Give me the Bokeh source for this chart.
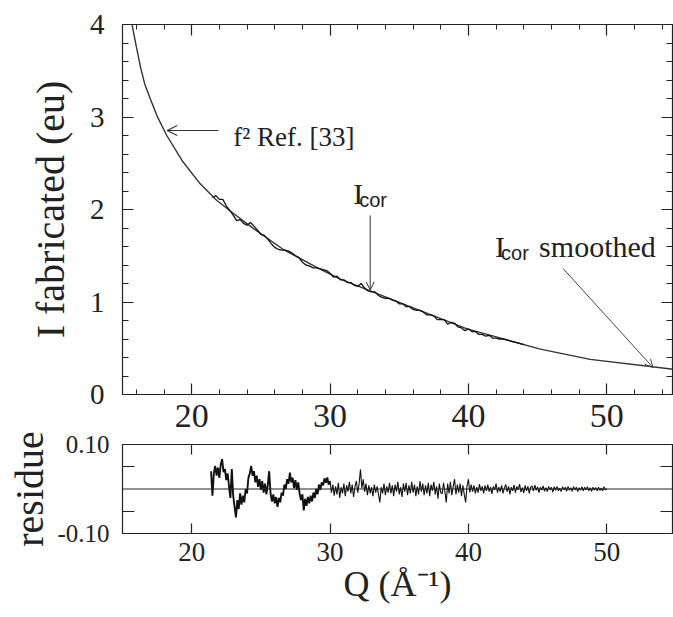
import numpy as np
from bokeh.plotting import figure
from bokeh.models import (LinearAxis, FixedTicker, CustomJSTickFormatter, Arrow,
                          OpenHead, Label, Span, NumeralTickFormatter, Range1d)
from bokeh.layouts import column
from bokeh.embed import file_html
from bokeh.resources import INLINE

SERIF = "Liberation Serif"
SANS = "Liberation Sans"
INK = "#222222"

# ---------------- data ----------------
# f^2 reference curve (smooth)
f2_q = [15.4, 15.7, 16.0, 16.3, 16.6, 17.0, 17.5, 18.2, 19.3, 20.6, 21.8, 23.0,
        24.5, 26.6, 29.1, 30.7, 32.9, 35.6, 39.9, 42.8, 45.2, 48.8, 53.3, 55.0]
f2_i = [4.28, 3.99, 3.76, 3.54, 3.36, 3.20, 3.01, 2.80, 2.53, 2.28, 2.10, 1.96,
        1.79, 1.57, 1.37, 1.25, 1.12, 0.96, 0.71, 0.59, 0.49, 0.38, 0.30, 0.27]

# I_cor (noisy part), sampled every 0.25 from Q = 21.5
icor_q0 = 21.5
icor_step = 0.25
icor_i = [2.13, 2.15, 2.11, 2.11, 2.04, 1.99, 1.94, 1.88, 1.89, 1.85,
          1.83, 1.86, 1.82, 1.78, 1.73, 1.72, 1.68, 1.63, 1.59, 1.57,
          1.56, 1.56, 1.55, 1.53, 1.50, 1.48, 1.43, 1.40, 1.39, 1.37,
          1.37, 1.36, 1.35, 1.34, 1.31, 1.27, 1.28, 1.24, 1.24, 1.21,
          1.21, 1.18, 1.17, 1.20, 1.15, 1.12, 1.11, 1.11, 1.07, 1.05,
          1.04, 1.04, 1.02, 1.01, 0.98, 0.98, 0.95, 0.95, 0.92, 0.91,
          0.91, 0.89, 0.86, 0.86, 0.85, 0.81, 0.81, 0.81, 0.76, 0.78,
          0.77, 0.73, 0.72, 0.69, 0.71, 0.68, 0.68, 0.65, 0.65, 0.63,
          0.64, 0.61, 0.61, 0.60, 0.60, 0.59, 0.58, 0.57, 0.56, 0.55,
          0.54]

# residue, sampled every 0.1 from Q = 21.4
res_q0 = 21.4
res_step = 0.1
residue = [
    0.040, -0.015, 0.035, 0.052, 0.030, 0.048, 0.025, 0.055, 0.067, 0.038,
    0.045, 0.020, 0.035, 0.005, -0.020, 0.045, -0.015, -0.040, -0.064, -0.025,
    -0.045, -0.010, -0.035, -0.015, -0.030, 0.000, -0.010, 0.025, 0.035, 0.052,
    0.030, 0.040, 0.015, 0.030, 0.005, 0.022, -0.002, 0.018, -0.008, 0.012,
    -0.012, 0.008, 0.040, -0.010, -0.028, -0.012, -0.032, -0.018, -0.040, -0.020,
    -0.030, -0.008, -0.015, 0.010, 0.000, 0.022, 0.012, 0.037, 0.015, 0.025,
    0.002, 0.020, -0.002, 0.015, -0.010, -0.025, -0.012, -0.048, -0.022, -0.038,
    -0.018, -0.032, -0.015, -0.028, -0.008, -0.020, 0.000, -0.012, 0.010, -0.002,
    0.015, 0.008, 0.024, 0.014, 0.026, 0.010, 0.018, -0.008, 0.010, -0.015,
    0.006, -0.012, 0.014, -0.020, 0.004, -0.010, 0.012, -0.016, 0.008, -0.006,
    0.016, -0.010, 0.010, -0.018, 0.005, 0.018, -0.008, 0.012, 0.044, 0.002,
    0.022, -0.006, 0.012, -0.014, 0.008, -0.010, 0.004, -0.016, 0.010, -0.008,
    0.006, -0.012, -0.030, 0.004, -0.010, 0.012, -0.014, 0.006, -0.008, 0.014,
    -0.010, 0.008, -0.016, 0.010, -0.006, 0.016, -0.012, 0.004, -0.018, 0.012,
    -0.006, 0.014, -0.014, 0.008, -0.010, 0.016, -0.008, 0.010, -0.016, 0.006,
    -0.012, 0.018, -0.006, 0.012, -0.014, 0.008, -0.010, 0.014, -0.016, 0.010,
    -0.004, 0.016, -0.012, 0.006, -0.022, 0.012, -0.008, -0.011, 0.014, -0.006,
    -0.030, 0.012, -0.010, 0.016, -0.014, 0.006, 0.022, -0.012, 0.010, -0.008,
    0.012, -0.016, 0.008, -0.012, -0.030, 0.006, 0.022, -0.008, 0.010, -0.006,
    0.008, -0.010, 0.004, -0.008, 0.011, -0.004, 0.006, -0.010, 0.008, -0.004,
    0.010, -0.006, 0.004, -0.011, 0.006, -0.002, 0.012, -0.008, 0.004, -0.006,
    0.008, -0.010, 0.002, 0.010, -0.006, 0.006, -0.012, 0.004, -0.004, 0.009,
    -0.008, 0.006, -0.002, 0.011, -0.007, 0.003, -0.009, 0.008, -0.004, 0.006,
    -0.010, 0.004, 0.007, -0.005, 0.009, -0.003, 0.005, -0.008, 0.004, -0.002,
    0.007, -0.005, 0.003, -0.006, 0.006, -0.002, 0.004, -0.007, 0.005, -0.003,
    0.006, -0.004, 0.002, -0.006, 0.005, -0.002, 0.004, -0.005, 0.006, -0.003,
    0.003, -0.005, 0.005, -0.002, 0.004, -0.006, 0.003, -0.003, 0.005, -0.004,
    0.004, -0.002, 0.005, -0.004, 0.003, -0.005, 0.004, -0.002, 0.003, -0.004,
    0.004, -0.003, 0.002, -0.004, 0.005, -0.002, 0.000,
]
dense_until = 30.0   # the residue trace looks heavier (denser) below this Q

x_ticks = [20, 30, 40, 50]
x_minor = [16, 18, 22, 24, 26, 28, 32, 34, 36, 38, 42, 44, 46, 48, 52, 54]
y_ticks = [0, 1, 2, 3, 4]
y_minor = [0.2, 0.4, 0.6, 0.8, 1.2, 1.4, 1.6, 1.8, 2.2, 2.4, 2.6, 2.8,
           3.2, 3.4, 3.6, 3.8]
res_ticks = [-0.10, 0.10]
res_minor = [-0.05, 0.05]

icor_q = np.round(icor_q0 + icor_step * np.arange(len(icor_i)), 2)
res_q = np.round(res_q0 + res_step * np.arange(len(residue)), 2)
res_v = np.array(residue)
n_dense = int(np.searchsorted(res_q, dense_until, side="right"))

XR = Range1d(15, 54.75)
BLANK = CustomJSTickFormatter(code="return ''")


def style_axis(ax, ticks, minor, major_in, minor_in, font_size=None, blank=False):
    ax.ticker = FixedTicker(ticks=ticks, minor_ticks=minor)
    ax.major_tick_in = major_in
    ax.major_tick_out = 0
    ax.minor_tick_in = minor_in
    ax.minor_tick_out = 0
    ax.axis_line_color = INK
    ax.major_tick_line_color = INK
    ax.minor_tick_line_color = INK
    ax.major_tick_line_width = 1.2
    ax.minor_tick_line_width = 1.0
    ax.axis_label_text_font = SERIF
    ax.axis_label_text_font_style = "normal"
    ax.axis_label_text_color = INK
    ax.major_label_text_font = SERIF
    ax.major_label_text_color = INK
    if blank:
        ax.formatter = BLANK
        ax.major_label_standoff = 0
        ax.major_label_text_font_size = "1px"
    elif font_size:
        ax.major_label_text_font_size = font_size


# ---------------- top panel ----------------
top = figure(width=673, height=436, x_range=XR, y_range=Range1d(0, 4),
             output_backend="svg", toolbar_location=None,
             min_border_left=122, min_border_right=1, min_border_top=24,
             min_border_bottom=42)
top.grid.visible = False
top.outline_line_color = INK
top.outline_line_width = 1.2
top.background_fill_color = "white"
top.border_fill_color = "white"

style_axis(top.xaxis[0], x_ticks, x_minor, 11, 5, "34px")
top.xaxis[0].major_label_standoff = 10
style_axis(top.yaxis[0], y_ticks, y_minor, 11, 6, "29px")
top.yaxis[0].major_label_standoff = 18
top.yaxis[0].axis_label = "I fabricated (eu)"
top.yaxis[0].axis_label_text_font_size = "40px"
top.yaxis[0].axis_label_standoff = 14

ax_top = LinearAxis()
style_axis(ax_top, x_ticks, x_minor, 11, 5, blank=True)
top.add_layout(ax_top, "above")
ax_right = LinearAxis()
style_axis(ax_right, y_ticks, y_minor, 11, 6, blank=True)
top.add_layout(ax_right, "right")

top.line(f2_q, f2_i, line_color="#333333", line_width=1.4)
top.line(icor_q, icor_i, line_color="#111111", line_width=1.3)

top.add_layout(Arrow(end=OpenHead(size=10, line_color="#333333", line_width=1.1),
                     x_start=21.93, y_start=2.854, x_end=18.23, y_end=2.854,
                     line_color="#333333", line_width=1.1))
top.add_layout(Label(x=23.0, y=2.78, text="f² Ref. [33]", text_font=SERIF,
                     text_font_size="27px", text_color=INK,
                     text_baseline="alphabetic"))

top.add_layout(Label(x=31.68, y=2.173, text="I", text_font=SERIF,
                     text_font_size="30px", text_color=INK,
                     text_baseline="alphabetic"))
top.add_layout(Label(x=32.11, y=2.108, text="cor", text_font=SANS,
                     text_font_size="20px", text_color=INK,
                     text_baseline="alphabetic"))
top.add_layout(Arrow(end=OpenHead(size=8, line_color="#333333", line_width=1.0),
                     x_start=32.9, y_start=1.935, x_end=32.9, y_end=1.13,
                     line_color="#333333", line_width=1.0))

top.add_layout(Label(x=41.93, y=1.60, text="I", text_font=SERIF,
                     text_font_size="30px", text_color=INK,
                     text_baseline="alphabetic"))
top.add_layout(Label(x=42.36, y=1.535, text="cor", text_font=SANS,
                     text_font_size="20px", text_color=INK,
                     text_baseline="alphabetic"))
top.add_layout(Label(x=45.11, y=1.60, text="smoothed", text_font=SERIF,
                     text_font_size="30px", text_color=INK,
                     text_baseline="alphabetic"))
top.add_layout(Arrow(end=OpenHead(size=8, line_color="#444444", line_width=1.0),
                     x_start=46.84, y_start=1.362, x_end=53.34, y_end=0.292,
                     line_color="#444444", line_width=1.0))

# ---------------- residue panel ----------------
# canvas overlaps the gap under the top panel (transparent border)
bot = figure(width=673, height=191, x_range=XR, y_range=Range1d(-0.1, 0.1),
             output_backend="svg", toolbar_location=None,
             min_border_left=122, min_border_right=1, min_border_top=18,
             min_border_bottom=84, margin=(-10, 0, 0, 0))
bot.grid.visible = False
bot.outline_line_color = INK
bot.outline_line_width = 1.2
bot.background_fill_color = "white"
bot.border_fill_color = None

style_axis(bot.xaxis[0], x_ticks, [], 10, 0, "27px")
bot.xaxis[0].major_label_standoff = 9
bot.xaxis[0].axis_label = "Q (Å⁻¹)"
bot.xaxis[0].axis_label_text_font_size = "36px"
bot.xaxis[0].axis_label_standoff = 0

style_axis(bot.yaxis[0], res_ticks, res_minor, 0, 12, "25px")
bot.yaxis[0].formatter = NumeralTickFormatter(format="0.00")
bot.yaxis[0].major_label_standoff = 13
bot.yaxis[0].axis_label = "residue"
bot.yaxis[0].axis_label_text_font_size = "40px"
bot.yaxis[0].axis_label_standoff = 2

bx_top = LinearAxis()
style_axis(bx_top, x_ticks, [], 10, 0, blank=True)
bot.add_layout(bx_top, "above")
by_right = LinearAxis()
style_axis(by_right, res_ticks, res_minor, 0, 12, blank=True)
bot.add_layout(by_right, "right")

bot.add_layout(Span(location=0, dimension="width", line_color=INK, line_width=1.0))
bot.line(res_q[:n_dense], res_v[:n_dense], line_color="#111111", line_width=1.9)
bot.line(res_q[n_dense - 1:], res_v[n_dense - 1:], line_color="#111111", line_width=1.1)

layout = column(top, bot, spacing=0)
open("out.html", "w").write(file_html(layout, INLINE))
